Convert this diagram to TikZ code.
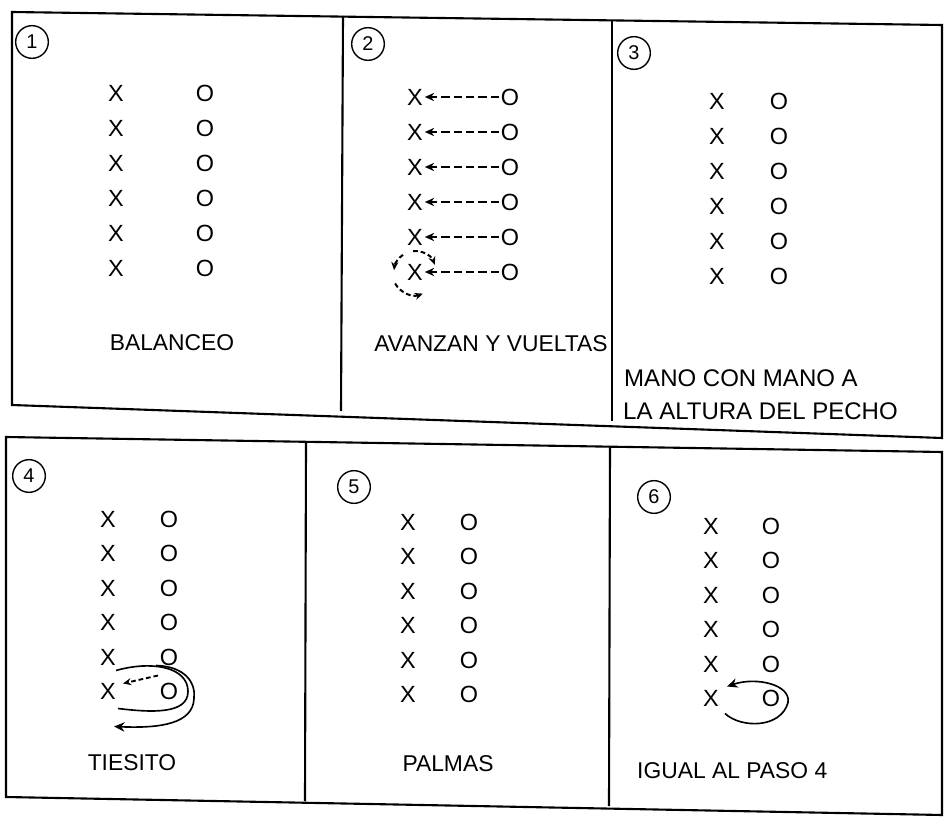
\documentclass[tikz,border=0pt]{standalone}
\usepackage{fontspec}
\setmainfont{Liberation Sans}
\usetikzlibrary{arrows.meta, calc}

\begin{document}
\begin{tikzpicture}[x=0.03cm, y=-0.03cm,
    frame/.style={line width=1.8pt},
    num/.style={draw, circle, line width=1.2pt, minimum size=0.98cm, inner sep=0pt, font=\fontsize{17}{19}\selectfont},
    player/.style={inner sep=1.5pt, font=\fontsize{20}{22}\selectfont},
    lbl/.style={inner sep=0pt, font=\fontsize{19.5}{22}\selectfont},
    pass/.style={-{Stealth[length=8pt,width=7pt]}, dash pattern=on 7pt off 3.5pt, line width=1.8pt},
    spin/.style={-{Stealth[length=7pt,width=6pt]}, dash pattern=on 4pt off 2.5pt, line width=1.7pt},
    turn/.style={line width=1.4pt}]
    \useasboundingbox (0,0) rectangle (944,821);

    % Frames
    \draw[frame] (12,12) -- (942,25) -- (942,438) -- (12,405) -- cycle;
    \draw[frame] (343,16) -- (341,411);
    \draw[frame] (612,20) -- (612,421);
    \draw[frame] (6,437) -- (942,452) -- (942,815) -- (6,797) -- cycle;
    \draw[frame] (306,442) -- (305,801);
    \draw[frame] (610,446) -- (609,806);

    % Paso 1
    \node[num] (n1) at (32,42) {1};
    \foreach \i in {1,...,6} {
        \node[player] (x1\i) at (116,{93+35*(\i-1)}) {X};
        \node[player] (o1\i) at (205,{93+35*(\i-1)}) {O};
    }
    \node[lbl] (t1) at (172,343) {BALANCEO};

    % Paso 2
    \node[num] (n2) at (368,44) {2};
    \foreach \i in {1,...,6} {
        \node[player] (x2\i) at (415,{97+35*(\i-1)}) {X};
        \node[player] (o2\i) at (510,{97+35*(\i-1)}) {O};
        \draw[pass] (o2\i) -- (x2\i);
    }
    % vuelta
    \draw[spin] ($(x26)+(265:21)$) arc[start angle=265, end angle=340, radius=21];
    \draw[spin] ($(x26)+(235:21)$) arc[start angle=235, end angle=185, radius=21];
    \draw[spin] ($(x26)+(150:23)$) arc[start angle=150, end angle=70, radius=23];
    \node[lbl] (t2) at (491,344) {AVANZAN Y VUELTAS};

    % Paso 3
    \node[num] (n3) at (634,53) {3};
    \foreach \i in {1,...,6} {
        \node[player] (x3\i) at (717,{101+35*(\i-1)}) {X};
        \node[player] (o3\i) at (779,{101+35*(\i-1)}) {O};
    }
    \node[lbl, anchor=west, font=\fontsize{20.5}{22}\selectfont] (t3) at (624,378) {MANO CON MANO A};
    \node[lbl, anchor=west, font=\fontsize{20.5}{22}\selectfont] (t3b) at (623,411) {LA ALTURA DEL PECHO};

    % Paso 4
    \node[num] (n4) at (29,476) {4};
    \foreach \i in {1,...,6} {
        \node[player] (x4\i) at (108,{519+34.5*(\i-1)}) {X};
        \node[player] (o4\i) at (169,{519+34.5*(\i-1)}) {O};
    }
    \draw[turn] ($(o46)+(-53,-21)$) .. controls ($(o46)+(-18,-31)$) and ($(o46)+(19,-25)$) .. ($(o46)+(19,0)$)
        .. controls ($(o46)+(19,23)$) and ($(o46)+(-18,21)$) .. ($(o46)+(-51,17)$);
    \draw[turn, -{Stealth[length=9pt,width=8pt]}] ($(o46)+(-13,-26)$) .. controls ($(o46)+(17,-25)$) and ($(o46)+(27,-8)$) .. ($(o46)+(25,7)$)
        .. controls ($(o46)+(24,32)$) and ($(o46)+(-8,37)$) .. ($(o46)+(-55,35)$);
    \draw[spin, line width=1.6pt] ($(o46)+(-11,-16)$) -- ($(x46)+(15,-8)$);
    \node[lbl] (t4) at (132,763) {TIESITO};

    % Paso 5
    \node[num] (n5) at (354,487) {5};
    \foreach \i in {1,...,6} {
        \node[player] (x5\i) at (408,{522+34.5*(\i-1)}) {X};
        \node[player] (o5\i) at (469,{522+34.5*(\i-1)}) {O};
    }
    \node[lbl] (t5) at (448,764) {PALMAS};

    % Paso 6
    \node[num] (n6) at (654,497) {6};
    \foreach \i in {1,...,6} {
        \node[player] (x6\i) at (711,{526+34.5*(\i-1)}) {X};
        \node[player] (o6\i) at (771,{526+34.5*(\i-1)}) {O};
    }
    \draw[turn, -{Stealth[length=9pt,width=8pt]}] ($(o66)+(-46,15)$) .. controls ($(o66)+(-30,30)$) and ($(o66)+(10,30)$) .. ($(o66)+(17,4)$)
        .. controls ($(o66)+(20,-14)$) and ($(o66)+(-15,-22)$) .. ($(o66)+(-44,-12)$);
    \node[lbl, anchor=west] (t6) at (637,771) {IGUAL AL PASO 4};
\end{tikzpicture}
\end{document}
